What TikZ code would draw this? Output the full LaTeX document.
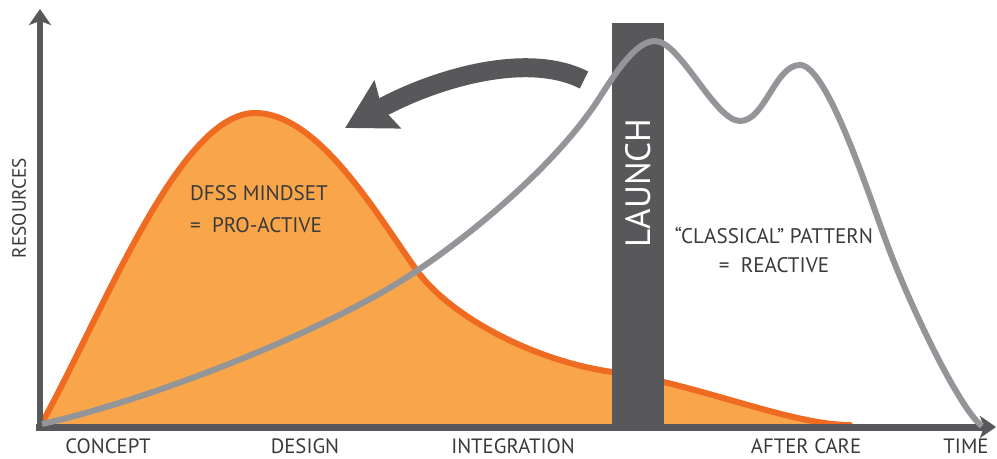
\documentclass[tikz,border=0pt]{standalone}
\usepackage{fontspec}
\setmainfont{PT Sans}
\usetikzlibrary{arrows.meta}
\definecolor{axisgray}{HTML}{58585A}
\definecolor{curvegray}{HTML}{939598}
\definecolor{dfssfill}{HTML}{F9A64A}
\definecolor{dfssline}{HTML}{EE6B21}
\definecolor{labelgray}{HTML}{3A3A3C}
\tikzset{
  axis/.style={draw=axisgray, line width=0.14cm,
    -{Stealth[length=0.32cm,width=0.44cm,inset=0.08cm]}},
  phase/.style={text=labelgray, inner sep=0pt, font=\fontsize{11.8}{12}\selectfont},
  note/.style={text=labelgray, inner sep=0pt, align=center},
}

\begin{document}
\begin{tikzpicture}[x=0.02cm, y=-0.02cm]
  \useasboundingbox (0,0) rectangle (997,459);
  % pro-active curve
  \filldraw[fill=dfssfill, draw=dfssline, line width=0.12cm, line join=round]
    (42,423) .. controls (105,308) and (180,113) .. (255,113)
    .. controls (320,113) and (380,220) .. (418,272)
    .. controls (450,315) and (530,360) .. (612,372)
    .. controls (698,384) and (790,425) .. (850,425)
    -- (850,427) -- (42,427) -- cycle;
  % launch bar
  \fill[axisgray] (612,23) rectangle (664,427);
  \node[rotate=90, text=white, inner sep=0pt, font=\fontsize{20}{20}\selectfont]
    (launch) at (638,183) {LAUNCH};
  % axes
  \coordinate (origin) at (40,427);
  \coordinate (ytop) at (40,9);
  \coordinate (xend) at (996,427);
  \draw[axis] ([yshift=-0.08cm]origin) -- (ytop);
  \draw[axis] ([xshift=-0.08cm]origin) -- (xend);
  % reactive curve
  \draw[curvegray, line width=0.12cm, line join=round]
    (42,424) .. controls (150,400) and (330,330) .. (418,270)
    .. controls (480,228) and (560,160) .. (600,97)
    .. controls (620,65.5) and (638,41) .. (655,41)
    .. controls (680,41) and (715,121) .. (740,121)
    .. controls (765,121) and (775,65) .. (800,65)
    .. controls (825,65) and (863,177) .. (883,233)
    .. controls (908,303) and (960,410) .. (982,426);
  % shift arrow
  \coordinate (arrowtail) at (584,80);
  \coordinate (arrowtip) at (345,128);
  \draw[axisgray, line width=0.38cm,
    -{Stealth[length=0.96cm,width=1.06cm,inset=0.12cm]}]
    (arrowtail) .. controls (525,50) and (430,81) .. (arrowtip);
  % labels
  \node[rotate=90, text=labelgray, inner sep=0pt, font=\fontsize{11}{11}\selectfont]
    (resources) at (19,208) {RESOURCES};
  \node[note, align=left, font=\fontsize{12}{18}\selectfont]
    (dfss) at (259,209) {DFSS MINDSET\\=\ \ PRO-ACTIVE};
  \node[note, font=\fontsize{12}{16.4}\selectfont]
    (classical) at (774,250) {“CLASSICAL” PATTERN\\=\ \ REACTIVE};
  \node[phase] (concept) at (108,446) {CONCEPT};
  \node[phase] (design) at (305,446) {DESIGN};
  \node[phase] (integration) at (513,446) {INTEGRATION};
  \node[phase] (aftercare) at (806,446) {AFTER CARE};
  \node[phase] (time) at (966,446) {TIME};
\end{tikzpicture}
\end{document}
